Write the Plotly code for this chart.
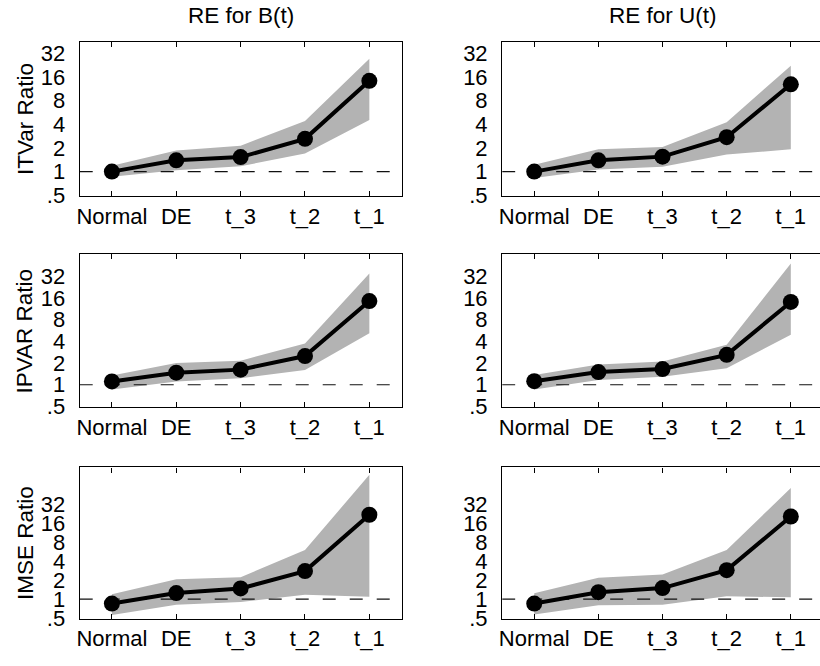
import plotly.graph_objects as go

categories = ["Normal", "DE", "t_3", "t_2", "t_1"]
col_titles = ["RE for B(t)", "RE for U(t)"]
row_labels = ["ITVar Ratio", "IPVAR Ratio", "IMSE Ratio"]
ytick_vals = [0.5, 1, 2, 4, 8, 16, 32]
ytick_text = [".5", "1", "2", "4", "8", "16", "32"]

# ITVar, B(t)
itvar_b_mid = [1.00, 1.39, 1.53, 2.61, 14.3]
itvar_b_hi = [1.19, 1.85, 2.14, 4.40, 27.3]
itvar_b_lo = [0.86, 1.04, 1.17, 1.70, 4.55]
# ITVar, U(t)
itvar_u_mid = [1.00, 1.39, 1.55, 2.74, 12.9]
itvar_u_hi = [1.22, 1.92, 2.05, 4.26, 22.2]
itvar_u_lo = [0.83, 1.06, 1.15, 1.65, 1.92]
# IPVAR, B(t)
ipvar_b_mid = [1.11, 1.47, 1.62, 2.50, 14.5]
ipvar_b_hi = [1.34, 2.00, 2.16, 3.73, 35.0]
ipvar_b_lo = [0.86, 1.11, 1.23, 1.60, 5.20]
# IPVAR, U(t)
ipvar_u_mid = [1.12, 1.50, 1.65, 2.60, 14.1]
ipvar_u_hi = [1.37, 1.91, 2.10, 3.60, 48.0]
ipvar_u_lo = [0.86, 1.16, 1.29, 1.70, 4.95]
# IMSE, B(t)
imse_b_mid = [0.85, 1.25, 1.48, 2.80, 22.2]
imse_b_hi = [1.20, 2.07, 2.23, 6.10, 96.0]
imse_b_lo = [0.56, 0.81, 0.90, 1.18, 1.09]
# IMSE, U(t)
imse_u_mid = [0.85, 1.29, 1.50, 2.90, 20.8]
imse_u_hi = [1.24, 2.20, 2.48, 6.10, 59.0]
imse_u_lo = [0.57, 0.80, 0.81, 1.11, 1.07]

panels = [
    [(itvar_b_mid, itvar_b_hi, itvar_b_lo), (itvar_u_mid, itvar_u_hi, itvar_u_lo)],
    [(ipvar_b_mid, ipvar_b_hi, ipvar_b_lo), (ipvar_u_mid, ipvar_u_hi, ipvar_u_lo)],
    [(imse_b_mid, imse_b_hi, imse_b_lo), (imse_u_mid, imse_u_hi, imse_u_lo)],
]

W, H = 820, 666
FONT = "Liberation Sans, Arial, Helvetica, sans-serif"
TICK_SIZE = 22

# layout geometry (pixels)
col_x = [(77, 400), (501, 820)]
col_xrange = [[-0.5, 4.5], [-0.5, 4.455]]
row_y = [(42, 199), (258, 414.3), (475.7, 630)]
row_ytop_log10 = [1.647, 1.815, 2.101]
y_bottom_log10 = -0.312

xpos = list(range(len(categories)))

fig = go.Figure()
layout = dict(
    width=W, height=H, autosize=False,
    margin=dict(l=0, r=0, t=0, b=0),
    paper_bgcolor="white", plot_bgcolor="white",
    showlegend=False,
    font=dict(family=FONT, color="black", size=TICK_SIZE),
)
annotations = []

for r in range(3):
    for c in range(2):
        k = r * 2 + c + 1
        xa = "x" if k == 1 else f"x{k}"
        ya = "y" if k == 1 else f"y{k}"
        mid, hi, lo = panels[r][c]
        # band
        fig.add_trace(go.Scatter(
            x=xpos + xpos[::-1], y=hi + lo[::-1],
            fill="toself", fillcolor="#b3b3b3", mode="lines",
            line=dict(width=0, color="#b3b3b3"),
            xaxis=xa, yaxis=ya, hoverinfo="skip"))
        # reference line at 1
        fig.add_trace(go.Scatter(
            x=[col_xrange[c][0], col_xrange[c][1]], y=[1, 1], mode="lines",
            line=dict(color="#111111", width=1.1, dash="13px,14px"),
            xaxis=xa, yaxis=ya, hoverinfo="skip"))
        # main line
        fig.add_trace(go.Scatter(
            x=xpos, y=mid, mode="lines+markers",
            line=dict(color="black", width=4),
            marker=dict(color="black", size=16),
            xaxis=xa, yaxis=ya))

        x0, x1 = col_x[c]
        yt, yb = row_y[r]
        layout["xaxis" if k == 1 else f"xaxis{k}"] = dict(
            domain=[x0 / W, x1 / W], range=col_xrange[c],
            anchor=ya, tickmode="array", tickvals=xpos, ticktext=categories,
            ticks="inside", ticklen=5, tickcolor="black", tickwidth=1,
            ticklabelstandoff=0,
            showline=True, linecolor="black", linewidth=1.3,
            mirror="ticks", showgrid=False, zeroline=False,
            tickfont=dict(size=TICK_SIZE, family=FONT, color="black"),
            fixedrange=True)
        layout["yaxis" if k == 1 else f"yaxis{k}"] = dict(
            domain=[1 - yb / H, 1 - yt / H], type="log",
            range=[y_bottom_log10, row_ytop_log10[r]],
            anchor=xa, tickmode="array", tickvals=ytick_vals, ticktext=ytick_text,
            ticks="", ticklabelstandoff=9,
            showline=True, linecolor="black", linewidth=1.3,
            mirror=(c == 0), showgrid=False, zeroline=False,
            tickfont=dict(size=TICK_SIZE, family=FONT, color="black"),
            fixedrange=True)

for c in range(2):
    x0, x1 = col_x[0] if c == 0 else (501, 823)
    annotations.append(dict(
        text=col_titles[c], x=(x0 + x1) / 2 / W, y=1 - 14.5 / H,
        xref="paper", yref="paper", xanchor="center", yanchor="middle",
        showarrow=False, font=dict(size=22.5, family=FONT, color="black")))

for r in range(3):
    yt, yb = row_y[r]
    annotations.append(dict(
        text=row_labels[r], x=22 / W, y=1 - (yt + yb) / 2 / H,
        xref="paper", yref="paper", xanchor="center", yanchor="middle",
        textangle=-90, showarrow=False,
        font=dict(size=22.5, family=FONT, color="black")))

layout["annotations"] = annotations
fig.update_layout(**layout)
fig.write_html("out.html")
